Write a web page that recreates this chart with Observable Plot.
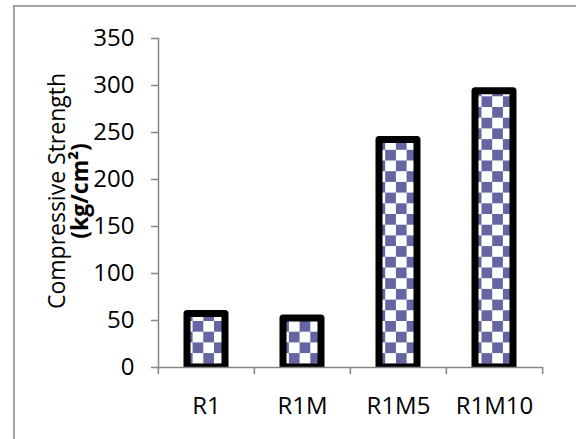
<!DOCTYPE html>
<html><head><meta charset="utf-8">
<script src="https://cdn.jsdelivr.net/npm/d3@7"></script>
<script src="https://cdn.jsdelivr.net/npm/@observablehq/plot@0.6"></script>
<style>
html,body{margin:0;padding:0;background:#fff;overflow:hidden;width:576px;height:439px}
#frame{position:absolute;left:13px;top:5px;width:700px;height:600px;border-left:2.5px solid #a3a3a3;border-top:2.5px solid #a3a3a3;}
#chart{position:absolute;left:0;top:0}
</style></head><body>
<div id="frame"></div><div id="chart"></div>
<script>
const categories = ["R1", "R1M", "R1M5", "R1M10"];
const strength = [57, 52, 242, 294];
const yTicks = [0, 50, 100, 150, 200, 250, 300, 350];
const titleLine1 = "Compressive Strength";
const titleLine2 = "(kg/cm²)";

const data = categories.map((c, i) => ({category: c, value: strength[i]}));
const W = 576, H = 439, mL = 158, mR = 33, mT = 38, mB = 72;
const step = (W - mL - mR) / categories.length;
const axisColor = "#868686";

const defs = () => {
  const ns = "http://www.w3.org/2000/svg";
  const g = document.createElementNS(ns, "defs");
  g.innerHTML = `<pattern id="checker" patternUnits="userSpaceOnUse" width="21.4" height="21.4">
    <rect width="21.4" height="21.4" fill="#ffffff"/>
    <rect width="10.7" height="10.7" fill="#6565a2"/>
    <rect x="10.7" y="10.7" width="10.7" height="10.7" fill="#6565a2"/>
  </pattern>`;
  return g;
};

const chart = Plot.plot({
  width: W, height: H,
  marginLeft: mL, marginRight: mR, marginTop: mT, marginBottom: mB,
  style: {fontFamily: "'Open Sans', sans-serif", background: "transparent", color: "#000"},
  x: {domain: categories, paddingInner: 0.6, paddingOuter: 0.3, label: null},
  y: {domain: [0, 350], label: null},
  marks: [
    defs,
    Plot.barY(data, {x: "category", y: "value", fill: "url(#checker)", stroke: "#000", strokeWidth: 7, strokeLinejoin: "round", clip: true}),
    Plot.ruleY([0], {stroke: axisColor, strokeWidth: 1.5}),
    Plot.frame({anchor: "left", stroke: axisColor, strokeWidth: 1.5}),
    Plot.axisY(yTicks, {tickSize: 7, tickPadding: 17, fontSize: 24, stroke: axisColor, strokeWidth: 1.5, fill: "#000", strokeOpacity: 1}),
    Plot.axisX({tickSize: 7, text: null, dx: -step / 2, stroke: axisColor, strokeWidth: 1.5, strokeOpacity: 1}),
    Plot.axisX([categories[categories.length - 1]], {tickSize: 7, text: null, dx: step / 2, stroke: axisColor, strokeWidth: 1.5, strokeOpacity: 1}),
    Plot.axisX({tickSize: 0, tickPadding: 29, fontSize: 24, fill: "#000"}),
    Plot.text([titleLine1], {text: d => d, frameAnchor: "left", rotate: -90, dx: -101, dy: -12, fontSize: 23, fill: "#000", textAnchor: "middle", lineAnchor: "middle"}),
    Plot.text([titleLine2], {text: d => d, frameAnchor: "left", rotate: -90, dx: -78, dy: -12, fontSize: 23, fontWeight: "bold", fill: "#000", textAnchor: "middle", lineAnchor: "middle"})
  ]
});
document.getElementById("chart").appendChild(chart);
</script>
</body></html>
